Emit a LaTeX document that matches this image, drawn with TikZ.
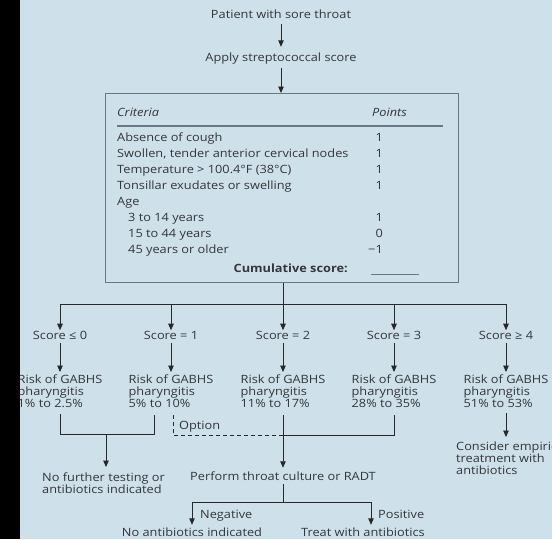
\documentclass[tikz,border=0pt]{standalone}
\usepackage{fontspec}
\setmainfont[FakeStretch=1.12]{Open Sans}
\usetikzlibrary{arrows.meta}
\definecolor{bg}{RGB}{206,224,234}
\definecolor{ink}{RGB}{52,54,58}
\definecolor{lin}{RGB}{40,40,42}
\definecolor{boxc}{RGB}{105,120,130}
\newcommand{\fsz}{\fontsize{11.4}{12}\selectfont}
\tikzset{
  txt/.style={inner sep=0pt, text=ink, font=\fsz},
  lft/.style={txt, anchor=mid west},
  ctr/.style={txt, anchor=mid},
  rgt/.style={txt, anchor=mid east},
  blk/.style={txt, align=left, anchor=north},
  ln/.style={draw=lin, line width=0.9pt},
  arr/.style={ln, -{Triangle[width=5.5pt,length=6.5pt]}},
}
\begin{document}
\begin{tikzpicture}[x=1pt,y=-1pt]
\useasboundingbox (0,0) rectangle (552,539);
\clip (0,0) rectangle (552,539);
\fill[bg] (0,0) rectangle (552,539);

% top
\node[ctr] (title) at (281,16) {Patient with sore throat};
\node[ctr] (apply) at (281,59) {Apply streptococcal score};
\node[draw=boxc, line width=1.1pt, inner sep=0pt, minimum width=353pt, minimum height=189pt, anchor=north west] (box) at (105,93) {};
\draw[arr, shorten <=5pt, shorten >=6pt] (title.south) -- (apply.north);
\draw[arr, shorten <=3pt] (apply.south) -- (apply.south |- box.north);

% table
\node[lft, font=\fsz\itshape] (hc) at (117,114) {Criteria};
\node[lft, font=\fsz\itshape] (hp) at (372,114) {Points};
\draw[draw=boxc, line width=1.3pt] (117,126) -- (443,126);
\node[lft] (c1) at (117,139) {Absence of cough};
\node[lft] (c2) at (117,155) {Swollen, tender anterior cervical nodes};
\node[lft] (c3) at (117,171) {Temperature > 100.4°F (38°C)};
\node[lft] (c4) at (117,187) {Tonsillar exudates or swelling};
\node[lft] (c5) at (117,203) {Age};
\node[lft] (c6) at (128,219) {3 to 14 years};
\node[lft] (c7) at (128,235) {15 to 44 years};
\node[lft] (c8) at (128,251) {45 years or older};
\node[rgt] (p1) at (383,139) {1};
\node[rgt] (p2) at (383,155) {1};
\node[rgt] (p3) at (383,171) {1};
\node[rgt] (p4) at (383,187) {1};
\node[rgt] (p6) at (383,219) {1};
\node[rgt] (p7) at (383,235) {0};
\node[rgt] (p8) at (383,251) {−1};
\node[rgt, font=\fsz\bfseries] (cum) at (348,270) {Cumulative score:};
\draw[draw=boxc, line width=1pt] (371,274) -- (419,274);

% scores
\node[ctr] (s1) at (60,337) {Score ≤ 0};
\node[ctr] (s2) at (171,337) {Score = 1};
\node[ctr] (s3) at (283,337) {Score = 2};
\node[ctr] (s4) at (394,337) {Score = 3};
\node[ctr] (s5) at (506,337) {Score ≥ 4};
\node[blk] (r1) at (60,375) {Risk of GABHS\\pharyngitis\\1\% to 2.5\%};
\node[blk] (r2) at (171,375) {Risk of GABHS\\pharyngitis\\5\% to 10\%};
\node[blk] (r3) at (283,375) {Risk of GABHS\\pharyngitis\\11\% to 17\%};
\node[blk] (r4) at (394,375) {Risk of GABHS\\pharyngitis\\28\% to 35\%};
\node[blk] (r5) at (506,375) {Risk of GABHS\\pharyngitis\\51\% to 53\%};

\draw[ln] (box.south -| s3) -- (s3 |- 0,304);
\draw[ln] (s1 |- 0,304) -- (s5 |- 0,304);
\foreach \i in {1,...,5}{
  \draw[arr, shorten >=1pt] (s\i |- 0,304) -- (s\i.north);
  \draw[arr, shorten <=3pt, shorten >=3pt] (s\i.south) -- (r\i.north);
}

% lower part
\node[blk, anchor=north west] (nf) at (42,473) {No further testing or\\antibiotics indicated};
\node[ctr] (pf) at (283,478) {Perform throat culture or RADT};
\node[blk, anchor=north west] (ce) at (456,442) {Consider empirical\\treatment with\\antibiotics};
\node[lft] (opt) at (179,427) {Option};

\coordinate (m1) at (106,434);
\draw[ln] ([yshift=-6pt]r1.south) -- (r1.south |- m1) -- (154,434) -- ([yshift=-7pt]r1.south -| 154,0);
\draw[arr, shorten >=6pt] (m1) -- (m1 |- nf.north);
\draw[ln, dashed, dash pattern=on 4pt off 3pt] ([xshift=2pt,yshift=-7pt]r2.south) -- ([xshift=2pt]r2.south |- 0,435) -- (r3 |- 0,435);
\draw[ln] ([yshift=-7pt]r4.south) -- (r4.south |- 0,435) -- (r3 |- 0,435);
\draw[arr, shorten <=7pt, shorten >=4pt] (r3.south) -- (pf.north);
\draw[arr, shorten <=5pt, shorten >=5pt] (r5.south) -- (r5.south |- ce.north);

\node[ctr] (na) at (192,534) {No antibiotics indicated};
\node[ctr] (ta) at (363,534) {Treat with antibiotics};
\node[lft] (neg) at (200,516) {Negative};
\node[lft] (pos) at (378,516) {Positive};
\coordinate (jl) at (192,502);
\coordinate (jr) at (371,502);
\draw[ln, shorten <=3pt] (pf.south) -- (pf.south |- jl);
\draw[ln] (jl) -- (jr);
\draw[arr, shorten >=3pt] (jl) -- (jl |- na.north);
\draw[arr, shorten >=3pt] (jr) -- (jr |- ta.north);

\fill[black] (0,0) rectangle (20,539);
\end{tikzpicture}
\end{document}
